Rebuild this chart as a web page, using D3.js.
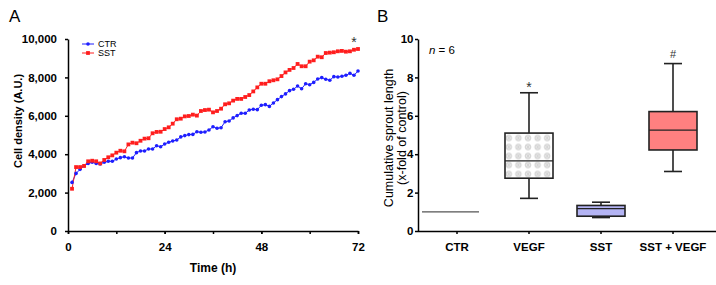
<!DOCTYPE html>
<html lang="en">
<head>
    <meta charset="UTF-8">
    <title>Cell density and sprout length</title>
    <script src="https://d3js.org/d3.v7.min.js"></script>
    <style>
        body { margin: 0; background: #fff; }
        svg { font-family: "Liberation Sans", Arial, sans-serif; }
        .axis path, .axis line { stroke: #000; stroke-width: 1.5; }
        .axis text { font-size: 11.5px; font-weight: bold; fill: #000; }
    </style>
</head>
<body>
    <svg width="716" height="285"></svg>

    <script>
        // Panel A data: hourly cell density
        const hours = [1,2,3,4,5,6,7,8,9,10,11,12,13,14,15,16,17,18,19,20,21,22,23,24,
            25,26,27,28,29,30,31,32,33,34,35,36,37,38,39,40,41,42,43,44,45,46,47,48,
            49,50,51,52,53,54,55,56,57,58,59,60,61,62,63,64,65,66,67,68,69,70,71,72];
        const ctrValues = [2530,3000,3210,3390,3520,3580,3520,3490,3580,3630,3630,3750,3820,3870,3800,3800,
            4080,4170,4170,4270,4270,4440,4390,4530,4620,4690,4740,4900,4970,5020,5030,5170,
            5140,5160,5260,5430,5350,5380,5690,5730,5890,6010,6130,6130,6300,6340,6320,6550,
            6580,6490,6670,6840,7000,7140,7310,7380,7550,7410,7670,7620,7740,7920,7990,7900,
            7850,8040,8020,8060,8110,8210,8110,8330];
        const sstValues = [2200,3330,3330,3390,3630,3660,3630,3520,3700,3840,3940,4080,4180,4150,4510,4600,
            4570,4700,4810,4830,5090,5160,5170,5310,5400,5590,5820,5850,5970,5990,6060,6010,
            6250,6300,6320,6180,6250,6370,6600,6650,6790,6880,6880,6980,7080,7270,7480,7670,
            7670,7800,7850,7900,8070,8260,8390,8490,8700,8580,8580,8820,8890,9080,9050,9270,
            9290,9310,9360,9380,9340,9360,9440,9480];
        const densityTicks = [0, 2000, 4000, 6000, 8000, 10000];
        const timeTicks = [0, 24, 48, 72];
        const timeMinorTicks = [0, 12, 24, 36, 48, 60, 72];

        // Panel B data: box plot statistics
        const groups = ["CTR", "VEGF", "SST", "SST + VEGF"];
        const boxMin = [1, 1.7, 0.7, 3.1];
        const boxQ1 = [1, 2.75, 0.77, 4.22];
        const boxMedian = [1, 3.65, 1.17, 5.25];
        const boxQ3 = [1, 5.1, 1.33, 6.22];
        const boxMax = [1, 7.2, 1.5, 8.72];
        const boxMarks = ["", "*", "", "#"];
        const sproutTicks = [0, 2, 4, 6, 8, 10];

        const svg = d3.select("svg");

        // ---------- Panel A ----------
        const xA = d3.scaleLinear().domain([0, 72]).range([68, 358]);
        const yA = d3.scaleLinear().domain([0, 10000]).range([231, 39]);

        // minor ticks on time axis
        svg.append("g")
            .attr("class", "axis")
            .attr("transform", "translate(0,231)")
            .call(d3.axisBottom(xA).tickValues(timeMinorTicks).tickSize(3).tickFormat(""))
            .select(".domain").remove();

        svg.append("g")
            .attr("class", "axis")
            .attr("transform", "translate(0,231)")
            .call(d3.axisBottom(xA).tickValues(timeTicks).tickSize(3).tickSizeOuter(0).tickPadding(9));

        svg.append("g")
            .attr("class", "axis")
            .attr("transform", "translate(68,0)")
            .call(d3.axisLeft(yA).tickValues(densityTicks).tickSize(3).tickSizeOuter(0).tickPadding(8)
                .tickFormat(d3.format(",")));

        const lineA = d3.line()
            .x(function(d, i) { return xA(hours[i]); })
            .y(function(d) { return yA(d); });

        svg.append("path")
            .datum(ctrValues)
            .attr("fill", "none")
            .attr("stroke", "#1e1eff")
            .attr("stroke-width", 1)
            .attr("d", lineA);

        svg.append("path")
            .datum(sstValues)
            .attr("fill", "none")
            .attr("stroke", "#ff1e1e")
            .attr("stroke-width", 1)
            .attr("d", lineA);

        svg.selectAll(".ctr-dot")
            .data(ctrValues)
            .enter()
            .append("circle")
            .attr("cx", function(d, i) { return xA(hours[i]); })
            .attr("cy", function(d) { return yA(d); })
            .attr("r", 1.8)
            .attr("fill", "#1e1eff");

        svg.selectAll(".sst-dot")
            .data(sstValues)
            .enter()
            .append("rect")
            .attr("x", function(d, i) { return xA(hours[i]) - 1.9; })
            .attr("y", function(d) { return yA(d) - 1.9; })
            .attr("width", 3.8)
            .attr("height", 3.8)
            .attr("fill", "#ff1e1e");

        // legend
        const legend = svg.append("g").attr("transform", "translate(82,44)");
        legend.append("line").attr("x1", 0).attr("x2", 12).attr("y1", 0).attr("y2", 0)
            .attr("stroke", "#1e1eff");
        legend.append("circle").attr("cx", 6).attr("cy", 0).attr("r", 1.8).attr("fill", "#1e1eff");
        legend.append("text").attr("x", 16).attr("y", 3.3).attr("font-size", 9).text("CTR");
        legend.append("line").attr("x1", 0).attr("x2", 12).attr("y1", 9).attr("y2", 9)
            .attr("stroke", "#ff1e1e");
        legend.append("rect").attr("x", 4.1).attr("y", 7.1).attr("width", 3.8).attr("height", 3.8)
            .attr("fill", "#ff1e1e");
        legend.append("text").attr("x", 16).attr("y", 12.3).attr("font-size", 9).text("SST");

        svg.append("text")
            .attr("x", xA(71)).attr("y", 47)
            .attr("text-anchor", "middle").attr("font-size", 14).attr("fill", "#333")
            .text("*");

        svg.append("text")
            .attr("x", xA(36)).attr("y", 272)
            .attr("text-anchor", "middle").attr("font-size", 12).attr("font-weight", "bold")
            .text("Time (h)");

        svg.append("text")
            .attr("transform", "translate(22,121) rotate(-90)")
            .attr("text-anchor", "middle").attr("font-size", 11).attr("font-weight", "bold")
            .text("Cell density (A.U.)");

        svg.append("text").attr("x", 9).attr("y", 22).attr("font-size", 17).text("A");

        // ---------- Panel B ----------
        const xB = d3.scaleBand().domain(groups).range([421, 709]);
        const yB = d3.scaleLinear().domain([0, 10]).range([231, 39]);

        const xAxisB = svg.append("g")
            .attr("class", "axis")
            .attr("transform", "translate(0,231)")
            .call(d3.axisBottom(xB).tickSize(3).tickSizeOuter(0).tickPadding(9));
        xAxisB.select(".domain").attr("d", "M418,0.5H716");

        svg.append("g")
            .attr("class", "axis")
            .attr("transform", "translate(418,0)")
            .call(d3.axisLeft(yB).tickValues(sproutTicks).tickSize(3).tickSizeOuter(0).tickPadding(1.5));

        // dotted fill for the VEGF box
        const defs = svg.append("defs");
        const pat = defs.append("pattern")
            .attr("id", "dots")
            .attr("patternUnits", "userSpaceOnUse")
            .attr("x", 504).attr("y", 133.5)
            .attr("width", 9.6).attr("height", 9);
        pat.append("rect").attr("width", 9.6).attr("height", 9).attr("fill", "#fff");
        pat.append("circle").attr("cx", 4.8).attr("cy", 4.5).attr("r", 2.8)
            .attr("fill", "#eeeeee").attr("stroke", "#b8b8b8").attr("stroke-width", 0.7);
        pat.append("path").attr("d", "M3.3,3L6.3,6M6.3,3L3.3,6")
            .attr("stroke", "#b0b0b0").attr("stroke-width", 0.6);

        const boxFills = ["none", "url(#dots)", "#b4b4f4", "#ff8080"];
        const boxW = 48;
        const capW = 18;

        groups.forEach(function(g, i) {
            const cx = xB(g) + xB.bandwidth() / 2;
            if (boxQ3[i] === boxQ1[i]) {
                // control normalised to 1: a single line
                svg.append("line")
                    .attr("x1", 422).attr("x2", 479)
                    .attr("y1", yB(boxMedian[i])).attr("y2", yB(boxMedian[i]))
                    .attr("stroke", "#555").attr("stroke-width", 1.2);
                return;
            }
            const grp = svg.append("g").attr("stroke", "#222").attr("stroke-width", 1.6);
            grp.append("line").attr("x1", cx).attr("x2", cx)
                .attr("y1", yB(boxMax[i])).attr("y2", yB(boxQ3[i]));
            grp.append("line").attr("x1", cx).attr("x2", cx)
                .attr("y1", yB(boxQ1[i])).attr("y2", yB(boxMin[i]));
            grp.append("line").attr("x1", cx - capW / 2).attr("x2", cx + capW / 2)
                .attr("y1", yB(boxMax[i])).attr("y2", yB(boxMax[i]));
            grp.append("line").attr("x1", cx - capW / 2).attr("x2", cx + capW / 2)
                .attr("y1", yB(boxMin[i])).attr("y2", yB(boxMin[i]));
            grp.append("rect")
                .attr("x", cx - boxW / 2).attr("width", boxW)
                .attr("y", yB(boxQ3[i])).attr("height", yB(boxQ1[i]) - yB(boxQ3[i]))
                .attr("fill", boxFills[i]);
            grp.append("line").attr("x1", cx - boxW / 2).attr("x2", cx + boxW / 2)
                .attr("y1", yB(boxMedian[i])).attr("y2", yB(boxMedian[i]))
                .attr("stroke-width", 1.3);
            if (boxMarks[i]) {
                svg.append("text")
                    .attr("x", cx).attr("y", yB(boxMax[i]) - (boxMarks[i] === "*" ? 1 : 6))
                    .attr("text-anchor", "middle")
                    .attr("font-size", boxMarks[i] === "*" ? 14 : 11)
                    .attr("fill", "#333")
                    .text(boxMarks[i]);
            }
        });

        const nText = svg.append("text").attr("x", 429).attr("y", 54).attr("font-size", 11.5);
        nText.append("tspan").attr("font-style", "italic").text("n");
        nText.append("tspan").text(" = 6");

        // two-line rotated title; dy moves towards the axis after rotation
        const yTitle = svg.append("text")
            .attr("transform", "translate(393,138) rotate(-90)")
            .attr("text-anchor", "middle").attr("font-size", 12.5);
        yTitle.append("tspan").attr("x", 0).attr("dy", 0).text("Cumulative sprout length");
        yTitle.append("tspan").attr("x", 0).attr("dy", 13).text("(x-fold of control)");

        svg.append("text").attr("x", 377).attr("y", 22).attr("font-size", 17).text("B");
    </script>
</body>
</html>
